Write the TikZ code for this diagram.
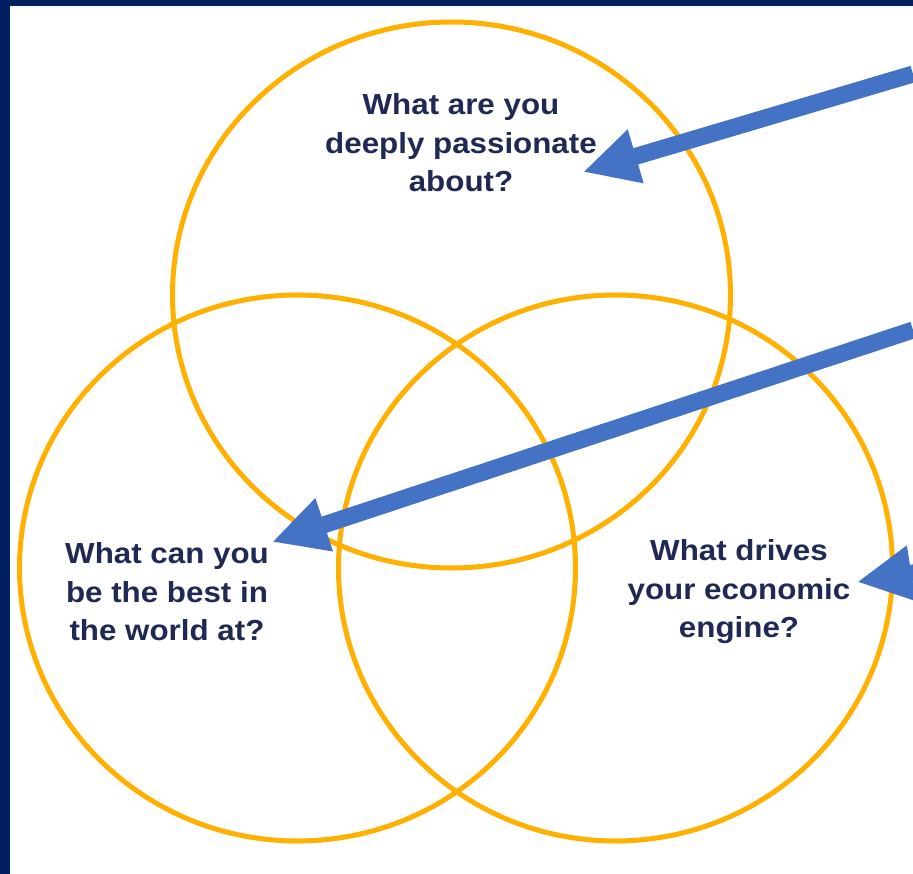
\documentclass[tikz,border=0pt]{standalone}
\usepackage{fontspec}
\setmainfont{Liberation Sans}[FakeStretch=1.08]
\usetikzlibrary{arrows.meta}
\definecolor{frame}{RGB}{0,32,96}
\definecolor{ring}{RGB}{255,176,0}
\definecolor{ink}{RGB}{31,41,84}
\definecolor{pointer}{RGB}{68,114,196}
\tikzstyle{ring}=[draw=ring,line width=5pt]
\tikzstyle{question}=[align=center,text=ink,font=\bfseries\fontsize{29}{38.5}\selectfont]
\tikzstyle{pointer}=[draw=pointer,line width=17pt,-{Triangle[length=55pt,width=52pt]}]

\begin{document}
\begin{tikzpicture}[x=1pt,y=-1pt]
        \useasboundingbox (0,0) rectangle (913,874);
        \clip (0,0) rectangle (913,874);
        \fill [white] (0,0) rectangle (913,874);
        \fill [frame] (0,0) rectangle (913,6);
        \fill [frame] (0,0) rectangle (10,874);

        \draw [ring] (451.5,295) ellipse [x radius=279,y radius=273];
        \draw [ring] (297.5,568) ellipse [x radius=278,y radius=273];
        \draw [ring] (615.5,568) ellipse [x radius=277,y radius=273];

        \node [question] (passion) at (461,143) {What are you\\deeply passionate\\about?};
        \node [question] (best) at (167,592) {What can you\\be the best in\\the world at?};
        \node [question] (engine) at (739,592) {What drives\\your economic\\engine?};

        \coordinate (passionfrom) at (913,74);
        \coordinate (passiontip) at (583,172);
        \coordinate (bestfrom) at (913,330);
        \coordinate (besttip) at (272,542);
        \coordinate (enginefrom) at (1000,559);
        \coordinate (enginetip) at (857,582);

        \path [pointer] (passionfrom) -- (passiontip);
        \path [pointer] (bestfrom) -- (besttip);
        \path [pointer] (enginefrom) -- (enginetip);
      \end{tikzpicture}
\end{document}
